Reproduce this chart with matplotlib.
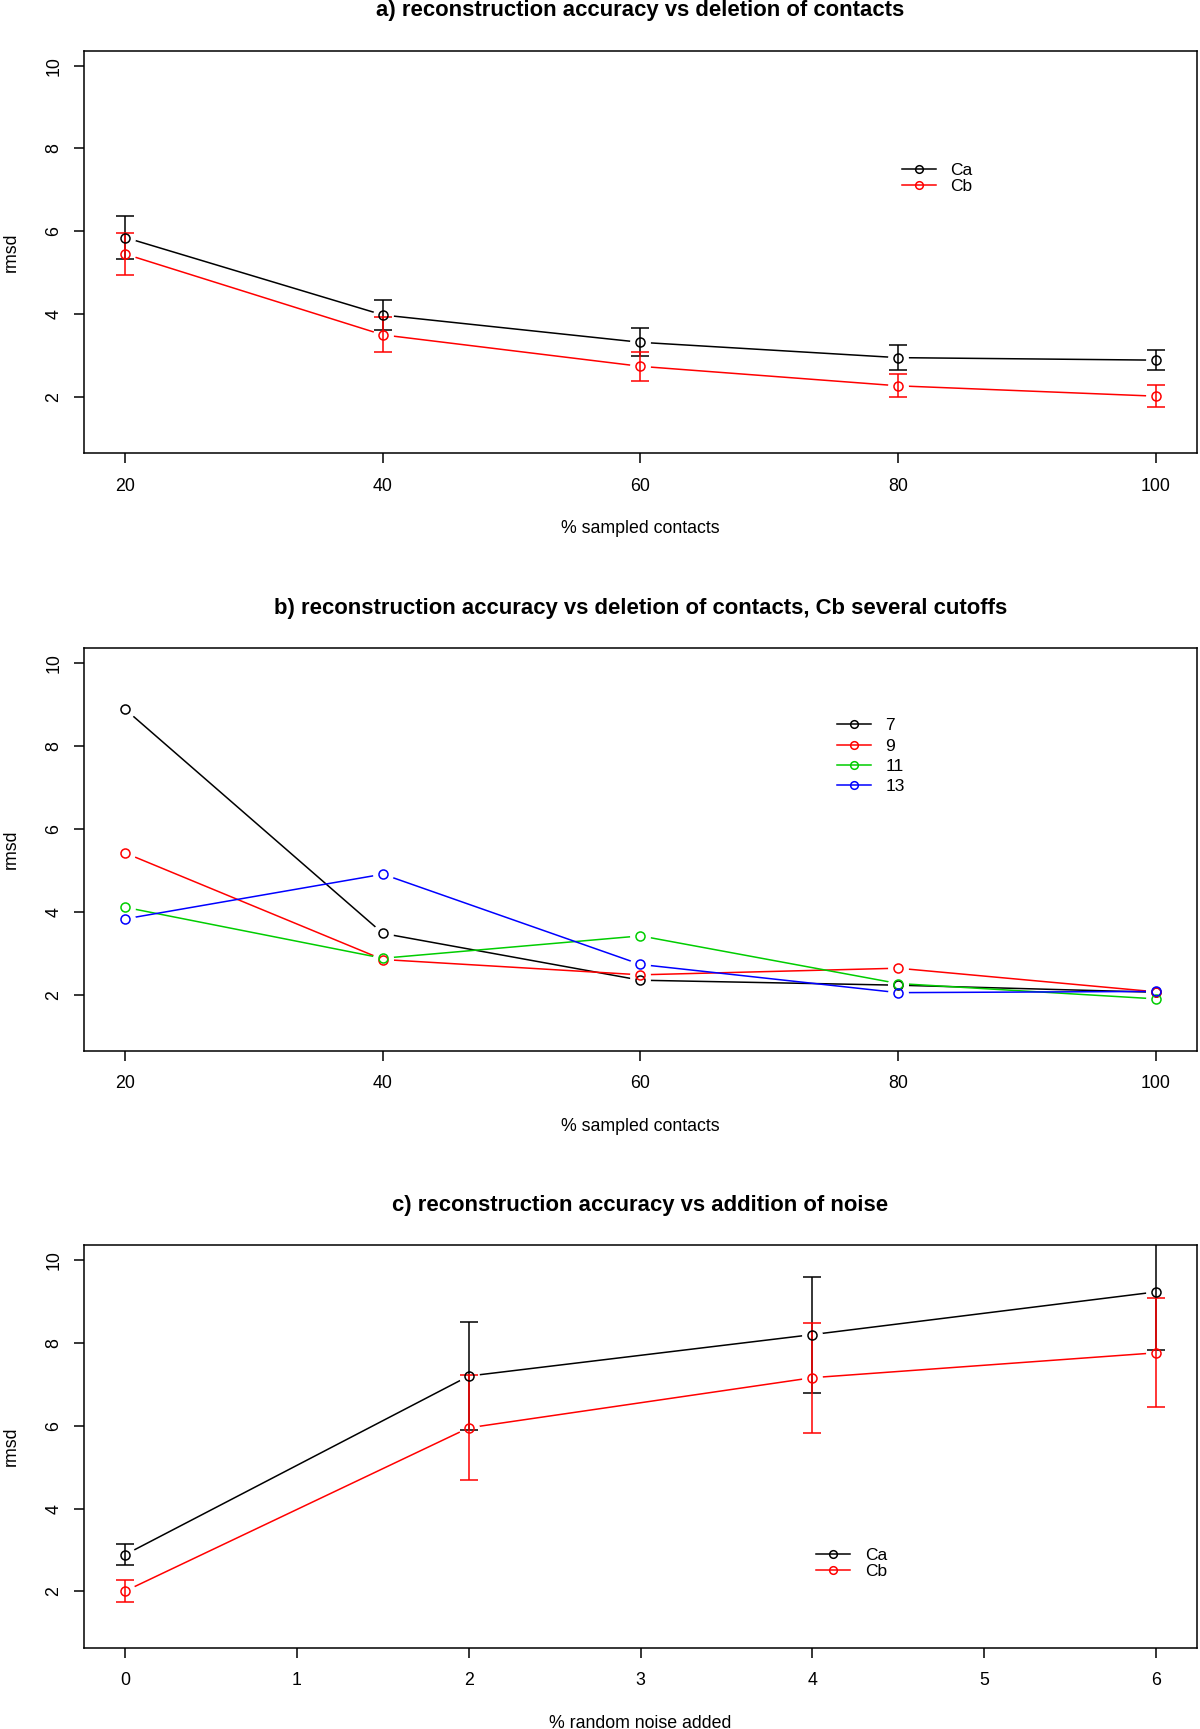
import matplotlib
matplotlib.use("Agg")
import matplotlib.pyplot as plt
from matplotlib.lines import Line2D

plt.rcParams['font.family'] = ['Liberation Sans', 'DejaVu Sans']

#--------------------------------------# data
pct_contacts = [20, 40, 60, 80, 100]

# a) Ca / Cb mean rmsd and sd
ca_rmsd = [5.85, 3.98, 3.32, 2.95, 2.89]
ca_sd = [0.53, 0.37, 0.34, 0.30, 0.245]
cb_rmsd = [5.45, 3.50, 2.74, 2.27, 2.02]
cb_sd = [0.50, 0.42, 0.35, 0.28, 0.26]

# b) Cb with several cutoffs
cutoff_labels = ["7", "9", "11", "13"]
cut7 = [8.89, 3.48, 2.35, 2.23, 2.06]
cut9 = [5.42, 2.85, 2.48, 2.64, 2.07]
cut11 = [4.11, 2.88, 3.42, 2.27, 1.90]
cut13 = [3.83, 4.91, 2.73, 2.05, 2.08]

# c) noise added
pct_noise = [0, 2, 4, 6]
ca_noise = [2.89, 7.20, 8.20, 9.23]
ca_noise_sd = [0.245, 1.30, 1.40, 1.41]
cb_noise = [2.01, 5.95, 7.16, 7.76]
cb_noise_sd = [0.255, 1.265, 1.33, 1.315]

FS = 12.8
LEG_FS = 12.5
LW = 1.1
R_GREEN = "#00CD00"


def series(ax, x, y, color, sd=None):
    # R type="b": line with a gap around each point
    ax.plot(x, y, color=color, lw=LW, zorder=2)
    ax.plot(x, y, 'o', ms=14, mfc='white', mec='white', zorder=2.5)
    if sd is not None:
        ax.errorbar(x, y, yerr=sd, fmt='none', ecolor=color, elinewidth=LW,
                    capsize=6.5, capthick=LW, zorder=3)
    ax.plot(x, y, 'o', ms=6.5, mfc='none', mec=color, mew=LW, zorder=4)


def style(ax, title, xlabel, xticks, xlim):
    ax.set_xlim(xlim)
    ax.set_ylim(0.64, 10.36)
    ax.set_xticks(xticks)
    ax.set_yticks([2, 4, 6, 8, 10])
    ax.tick_params(direction='out', length=7.5, width=LW, labelsize=FS)
    ax.tick_params(axis='x', pad=10)
    ax.tick_params(axis='y', pad=8)
    for lab in ax.get_yticklabels():
        lab.set_rotation(90)
        lab.set_va('center')
    for sp in ax.spines.values():
        sp.set_linewidth(LW)
    ax.set_title(title, fontsize=15.9, fontweight='bold', y=1.099, va='center', pad=0)
    ax.set_xlabel(xlabel, fontsize=FS, va='center')
    ax.xaxis.set_label_coords(0.5, -0.187)
    ax.set_ylabel("rmsd", fontsize=FS, va='center')
    ax.yaxis.set_label_coords(-0.0656, 0.5)


def legend(ax, labels, colors, x, y, spacing):
    handles = [Line2D([], [], color=c, lw=LW, marker='o', ms=5.5, mfc='none', mew=LW)
               for c in colors]
    ax.legend(handles, labels, loc='center left', bbox_to_anchor=(x, y), frameon=False,
              fontsize=LEG_FS, borderpad=0, borderaxespad=0, handlelength=1.95,
              handletextpad=0.85, labelspacing=spacing)


fig = plt.figure(figsize=(12, 17.29), dpi=100)
ax_a = fig.add_axes([0.07, 0.7378, 0.9275, 0.2329])
ax_b = fig.add_axes([0.07, 0.3921, 0.9275, 0.2329])
ax_c = fig.add_axes([0.07, 0.04696, 0.9275, 0.2329])

# a)
series(ax_a, pct_contacts, ca_rmsd, 'black', ca_sd)
series(ax_a, pct_contacts, cb_rmsd, 'red', cb_sd)
style(ax_a, "a) reconstruction accuracy vs deletion of contacts", "% sampled contacts",
      pct_contacts, (16.8, 103.2))
legend(ax_a, ["Ca", "Cb"], ['black', 'red'], 0.7347, 0.683, 0.04)

# b)
cut_colors = ['black', 'red', R_GREEN, 'blue']
for vals, col in zip([cut7, cut9, cut11, cut13], cut_colors):
    series(ax_b, pct_contacts, vals, col)
style(ax_b, "b) reconstruction accuracy vs deletion of contacts, Cb several cutoffs",
      "% sampled contacts", pct_contacts, (16.8, 103.2))
legend(ax_b, cutoff_labels, cut_colors, 0.6765, 0.732, 0.3)

# c)
series(ax_c, pct_noise, ca_noise, 'black', ca_noise_sd)
series(ax_c, pct_noise, cb_noise, 'red', cb_noise_sd)
style(ax_c, "c) reconstruction accuracy vs addition of noise", "% random noise added",
      [0, 1, 2, 3, 4, 5, 6], (-0.24, 6.24))
legend(ax_c, ["Ca", "Cb"], ['black', 'red'], 0.658, 0.21, 0.04)

fig.savefig("out.png", dpi=100)
